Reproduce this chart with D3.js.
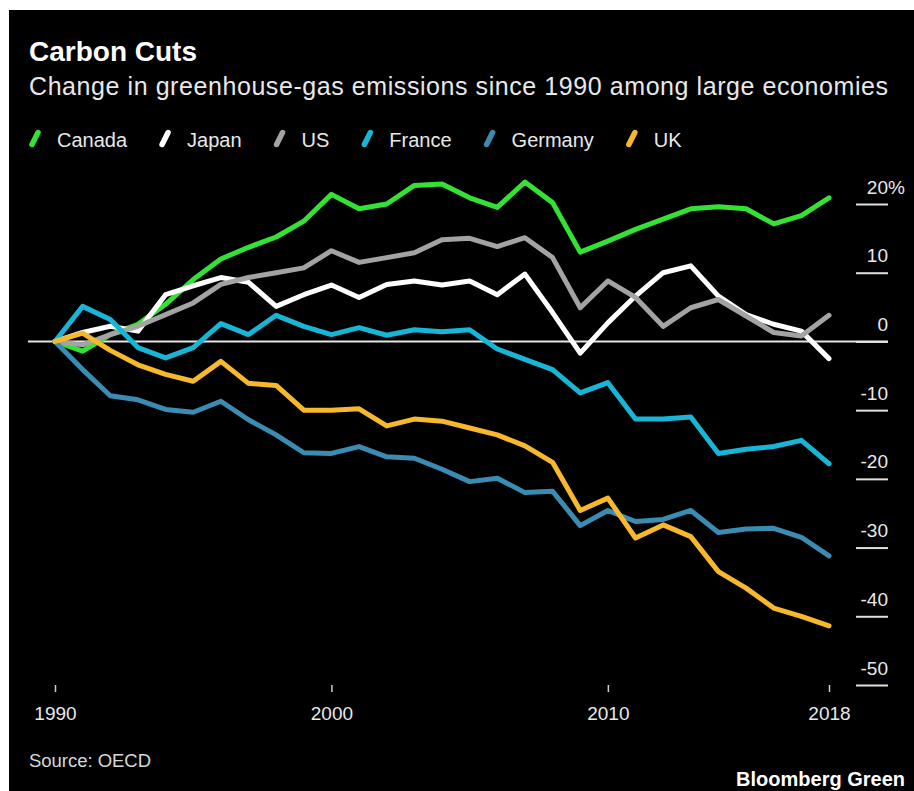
<!DOCTYPE html>
<html>
<head>
<meta charset="utf-8">
<script src="https://cdn.jsdelivr.net/npm/d3@7"></script>
<style>
  html, body { margin: 0; padding: 0; background: #ffffff; }
  svg { display: block; }
  text { font-family: "Liberation Sans", Arial, Helvetica, sans-serif; }
</style>
</head>
<body>
<script>
// ---- Data ----
const years = d3.range(1990, 2019);
const seriesNames = ["Canada", "Japan", "US", "France", "Germany", "UK"];
const seriesColors = ["#33e233", "#ffffff", "#a3a3a3", "#17b6d6", "#3a8cb3", "#f8b82c"];
const canada  = [0, -1.4, 1.0, 2.5, 5.4, 9.0, 12.0, 13.7, 15.2, 17.5, 21.4, 19.3, 20.0, 22.7, 22.9, 20.9, 19.5, 23.2, 20.2, 13.0, 14.6, 16.3, 17.8, 19.3, 19.6, 19.3, 17.1, 18.3, 20.9];
const japan   = [0, 1.3, 2.2, 1.5, 6.8, 8.1, 9.3, 8.6, 5.1, 6.8, 8.2, 6.4, 8.3, 8.8, 8.2, 8.8, 6.8, 9.8, 4.2, -1.7, 2.7, 6.6, 10.0, 11.0, 6.6, 3.9, 2.5, 1.5, -2.5];
const us      = [0, -0.5, 1.0, 2.2, 3.9, 5.6, 8.3, 9.3, 10.0, 10.7, 13.2, 11.5, 12.2, 12.9, 14.8, 15.0, 13.8, 15.1, 12.2, 4.9, 8.8, 6.4, 2.2, 4.9, 6.1, 3.7, 1.3, 0.8, 3.8];
const france  = [0, 5.1, 3.2, -0.9, -2.4, -0.9, 2.6, 1.0, 3.8, 2.2, 1.0, 2.0, 0.9, 1.7, 1.4, 1.7, -1.1, -2.6, -4.1, -7.5, -6.0, -11.3, -11.3, -11.0, -16.3, -15.7, -15.3, -14.4, -17.8];
const germany = [0, -4.1, -7.9, -8.5, -9.9, -10.3, -8.7, -11.4, -13.6, -16.2, -16.3, -15.3, -16.8, -17.0, -18.6, -20.4, -19.9, -22.0, -21.8, -26.8, -24.6, -26.2, -25.9, -24.6, -27.8, -27.3, -27.2, -28.5, -31.2];
const uk      = [0, 1.2, -1.3, -3.4, -4.8, -5.8, -2.9, -6.1, -6.4, -10.0, -10.0, -9.8, -12.3, -11.3, -11.6, -12.6, -13.6, -15.2, -17.6, -24.6, -22.8, -28.6, -26.7, -28.4, -33.5, -35.9, -38.8, -40.0, -41.4];
const seriesValues = [canada, japan, us, france, germany, uk];
const xTickValues = [1990, 2000, 2010, 2018];
const yTickValues = [20, 10, 0, -10, -20, -30, -40, -50];
const titleText = "Carbon Cuts";
const subtitleText = "Change in greenhouse-gas emissions since 1990 among large economies";
const sourceText = "Source: OECD";
const brandText = "Bloomberg Green";

// ---- Layout ----
const W = 914, H = 791;
const svg = d3.select("body").append("svg").attr("width", W).attr("height", H);

svg.append("rect").attr("x", 9).attr("y", 10).attr("width", W - 9).attr("height", H - 10).attr("fill", "#000");

const x = d3.scaleLinear().domain([1990, 2018]).range([55, 829]);
const y = d3.scaleLinear().domain([-50, 20]).range([685, 204]);

// Title & subtitle
svg.append("text").attr("x", 29).attr("y", 61)
  .attr("font-size", 28).attr("font-weight", "bold").attr("fill", "#fff")
  .text(titleText);
svg.append("text").attr("x", 29).attr("y", 94.5)
  .attr("font-size", 25).attr("fill", "#e8e8e8")
  .attr("textLength", 859).attr("lengthAdjust", "spacing")
  .text(subtitleText);

// Legend
let lx = 29;
seriesNames.forEach((name, i) => {
  const g = svg.append("g");
  g.append("line")
    .attr("x1", lx + 3).attr("y1", 144.5)
    .attr("x2", lx + 9).attr("y2", 132.5)
    .attr("stroke", seriesColors[i]).attr("stroke-width", 5.5).attr("stroke-linecap", "round");
  const t = g.append("text").attr("x", lx + 28).attr("y", 147)
    .attr("font-size", 20).attr("fill", "#e8e8e8").text(name);
  lx = lx + 28 + t.node().getComputedTextLength() + 32;
});

// Y axis (right side, labels above short tick lines)
const yAxis = d3.axisLeft(y).tickValues(yTickValues).tickSize(32).tickSizeOuter(0)
  .tickFormat(d => d);
const yg = svg.append("g").attr("transform", "translate(888,0)").call(yAxis);
yg.select(".domain").remove();
yg.selectAll(".tick line").attr("stroke", "#e0e0e0").attr("stroke-width", 2);
yg.selectAll(".tick text")
  .attr("x", 0).attr("dy", null).attr("y", -11)
  .attr("text-anchor", "end").attr("fill", "#e8e8e8")
  .attr("font-size", 19).attr("font-family", "Liberation Sans, Arial, sans-serif");
yg.selectAll(".tick").filter(d => d === yTickValues[0])
  .append("text").attr("x", 0).attr("y", -11).attr("text-anchor", "start")
  .attr("fill", "#e8e8e8").attr("font-size", 19)
  .attr("font-family", "Liberation Sans, Arial, sans-serif").text("%");

// Zero line
svg.append("line").attr("x1", 28).attr("x2", 888)
  .attr("y1", y(0)).attr("y2", y(0))
  .attr("stroke", "#e6e6e6").attr("stroke-width", 2);

// X axis
const xAxis = d3.axisBottom(x).tickValues(xTickValues).tickSize(7).tickSizeOuter(0)
  .tickFormat(d3.format("d"));
const xg = svg.append("g").attr("transform", "translate(0,685)").call(xAxis);
xg.select(".domain").remove();
xg.selectAll(".tick line").attr("stroke", "#cfcfcf").attr("stroke-width", 1.5);
xg.selectAll(".tick text").attr("dy", null).attr("y", 35)
  .attr("fill", "#e8e8e8").attr("font-size", 19)
  .attr("font-family", "Liberation Sans, Arial, sans-serif");

// Lines
const line = d3.line().x((d, i) => x(years[i])).y(d => y(d));
seriesValues.forEach((vals, i) => {
  svg.append("path").datum(vals)
    .attr("d", line)
    .attr("fill", "none")
    .attr("stroke", seriesColors[i])
    .attr("stroke-width", 5)
    .attr("stroke-linejoin", "round")
    .attr("stroke-linecap", "round");
});

// Footer
svg.append("text").attr("x", 29).attr("y", 767)
  .attr("font-size", 18.5).attr("fill", "#d8d8d8")
  .attr("textLength", 122).attr("lengthAdjust", "spacing")
  .text(sourceText);
svg.append("text").attr("x", 905).attr("y", 786)
  .attr("text-anchor", "end").attr("font-size", 20).attr("font-weight", "bold")
  .attr("fill", "#fff").text(brandText);
</script>
</body>
</html>
